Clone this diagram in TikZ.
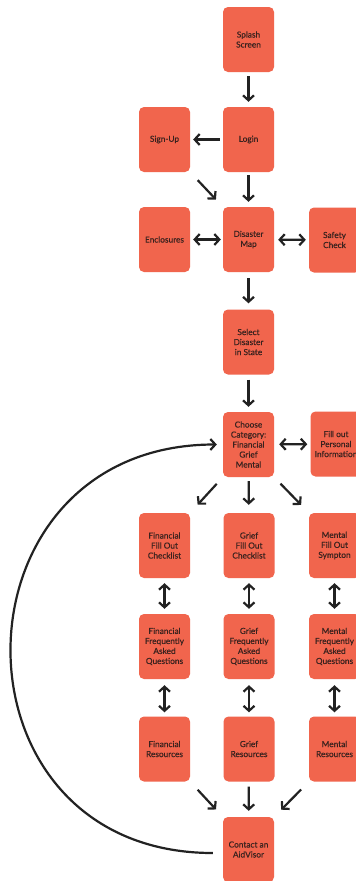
\documentclass[tikz,border=0pt]{standalone}
\usepackage{fontspec}
\setmainfont{Lato}
\newfontfamily\cardfont{Lato}[FakeBold=0.5]
\usetikzlibrary{arrows.meta}
\definecolor{boxc}{HTML}{F1654D}
\definecolor{txtc}{HTML}{3A221E}
\definecolor{linec}{HTML}{222222}
\tikzset{
  card/.style={rounded corners=5pt, fill=boxc, text=txtc, minimum width=51pt, minimum height=65pt,
    inner sep=0pt, align=center, font=\cardfont\fontsize{8.3}{10}\selectfont},
  conn/.style={draw=linec, line width=2.2pt, -{Straight Barb[length=5pt,width=11pt]}},
  biconn/.style={draw=linec, line width=2.2pt, {Straight Barb[length=5pt,width=11pt]}-{Straight Barb[length=5pt,width=11pt]}},
}
\begin{document}
\begin{tikzpicture}[x=1pt,y=-1pt]
\useasboundingbox[fill=white] (0,0) rectangle (356,881);
% nodes
\node[card] (splash) at (248.5,39.5) {Splash\\Screen};
\node[card] (login) at (248.5,139.5) {Login};
\node[card] (signup) at (164.5,139.5) {Sign-Up};
\node[card] (disaster) at (248.5,239.5) {Disaster\\Map};
\node[card] (encl) at (164.5,239.5) {Enclosures};
\node[card] (safety) at (334.5,240) {Safety\\Check};
\node[card] (select) at (248.5,342) {Select\\Disaster\\in State};
\node[card] (choose) at (248.5,444.5) {Choose\\Category:\\Financial\\Grief\\Mental};
\node[card] (fill) at (336,444) {Fill out\\Personal\\Information};
\node[card] (fin1) at (164.5,545.5) {Financial\\Fill Out\\Checklist};
\node[card] (gri1) at (249,545.5) {Grief\\Fill Out\\Checklist};
\node[card] (men1) at (334.5,545.5) {Mental\\Fill Out\\Sympton};
\node[card] (fin2) at (164.5,646.5) {Financial\\Frequently\\Asked\\Questions};
\node[card] (gri2) at (249,646.5) {Grief\\Frequently\\Asked\\Questions};
\node[card] (men2) at (334.5,646.5) {Mental\\Frequently\\Asked\\Questions};
\node[card] (fin3) at (164.5,749) {Financial\\Resources};
\node[card] (gri3) at (249,749) {Grief\\Resources};
\node[card] (men3) at (334.5,749) {Mental\\Resources};
\node[card] (contact) at (248.5,849.5) {Contact an\\AidVisor};
% connectors
\draw[conn, shorten <=4pt, shorten >=5pt] (splash) -- (login);
\draw[conn, shorten <=3pt, shorten >=3pt] (login) -- (signup);
\draw[conn, shorten <=11pt, shorten >=10pt] (signup.south east) -- (disaster.north west);
\draw[conn, shorten <=3pt, shorten >=5pt] (login) -- (disaster);
\draw[biconn, shorten <=3pt, shorten >=2pt] (encl) -- (disaster);
\draw[biconn, shorten <=4pt, shorten >=3pt] (disaster) -- (safety);
\draw[conn, shorten <=6pt, shorten >=6pt] (disaster) -- (select);
\draw[conn, shorten <=5pt, shorten >=5pt] (select) -- (choose);
\draw[biconn, shorten <=5pt, shorten >=3pt] (choose) -- (fill);
\draw[conn, shorten <=9pt, shorten >=11pt] (choose.south west) -- (fin1.north east);
\draw[conn, shorten <=4pt, shorten >=8pt] (choose) -- (gri1);
\draw[conn, shorten <=9pt, shorten >=11pt] (choose.south east) -- (men1.north west);
\draw[biconn, shorten <=5pt, shorten >=5pt] (fin1) -- (fin2);
\draw[biconn, shorten <=5pt, shorten >=5pt] (gri1) -- (gri2);
\draw[biconn, shorten <=5pt, shorten >=5pt] (men1) -- (men2);
\draw[biconn, shorten <=6pt, shorten >=4pt] (fin2) -- (fin3);
\draw[biconn, shorten <=6pt, shorten >=4pt] (gri2) -- (gri3);
\draw[biconn, shorten <=6pt, shorten >=4pt] (men2) -- (men3);
\draw[conn, shorten <=11pt, shorten >=10pt] (fin3.south east) -- (contact.north west);
\draw[conn, shorten <=5pt, shorten >=6pt] (gri3) -- (contact);
\draw[conn, shorten <=11pt, shorten >=10pt] (men3.south west) -- (contact.north east);
\draw[conn] ([xshift=-10pt,yshift=-3.5pt]contact.west) .. controls +(-272,0) and +(-272,0) .. ([xshift=-6pt]choose.west);
\end{tikzpicture}
\end{document}
